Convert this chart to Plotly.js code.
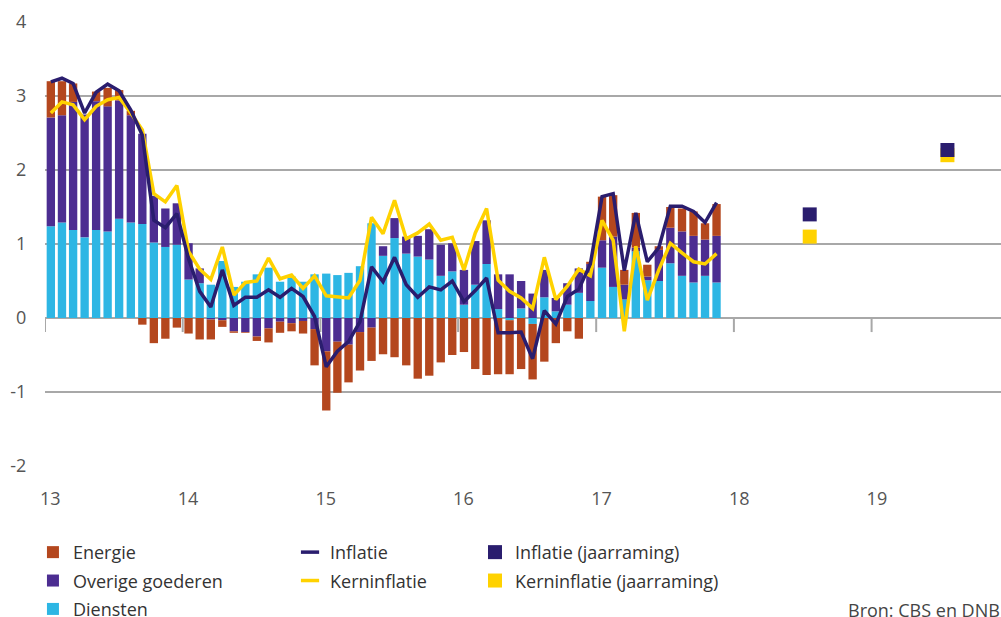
<!DOCTYPE html>
<html><head><meta charset="utf-8">
<script src="https://cdn.plot.ly/plotly-3.0.1.min.js"></script>
<style>html,body{margin:0;padding:0;background:#fff}#chart{width:1001px;height:617px}</style>
</head><body><div id="chart"></div>
<script>
// monthly categories Jan 2013 .. Nov 2017
const months = [];
for (let y = 2013; y <= 2017; y++) for (let m = 1; m <= 12; m++) {
  if (y === 2017 && m > 11) break;
  months.push(y + '-' + String(m).padStart(2, '0'));
}

// contributions (percentage points)
const energie = [
  0.49, 0.46, 0.25, 0.00, 0.13, 0.25, 0.14, 0.06, -0.09, -0.34, -0.28, -0.13,
  -0.21, -0.29, -0.27, -0.09, -0.02, -0.01, -0.06, -0.19, -0.15, -0.11, -0.17, -0.49,
  -0.80, -0.69, -0.51, -0.52, -0.45, -0.49, -0.53, -0.64, -0.82, -0.78, -0.60, -0.50,
  -0.46, -0.69, -0.77, -0.76, -0.73, -0.69, -0.75, -0.59, -0.34, -0.18, -0.28, 0.03,
  0.59, 0.56, 0.20, 0.47, 0.16, 0.05, 0.28, 0.31, 0.33, 0.22, 0.43
];
const overige = [
  1.47, 1.45, 1.73, 1.66, 1.74, 1.69, 1.60, 1.45, 1.22, 0.63, 0.52, 0.56,
  0.49, 0.20, -0.02, -0.03, -0.18, -0.19, -0.25, -0.14, -0.05, -0.07, -0.04, -0.15,
  -0.45, -0.32, -0.36, -0.19, -0.13, 0.13, 0.27, 0.23, 0.28, 0.41, 0.42, 0.38,
  0.47, 0.59, 0.59, 0.47, 0.59, 0.37, 0.33, 0.37, 0.18, 0.29, 0.33, 0.50,
  0.37, 0.68, 0.20, 0.05, 0.05, 0.42, 0.48, 0.60, 0.63, 0.49, 0.63
];
const diensten = [
  1.24, 1.29, 1.19, 1.09, 1.19, 1.17, 1.34, 1.29, 1.27, 1.02, 0.96, 0.99,
  0.52, 0.47, 0.45, 0.77, 0.42, 0.49, 0.59, 0.68, 0.49, 0.56, 0.49, 0.59,
  0.60, 0.58, 0.61, 0.70, 1.28, 0.84, 1.08, 0.87, 0.83, 0.79, 0.57, 0.63,
  0.18, 0.45, 0.73, 0.12, -0.03, 0.13, -0.08, 0.28, 0.09, 0.18, 0.34, 0.23,
  0.68, 0.42, 0.25, 0.90, 0.51, 0.50, 0.74, 0.57, 0.48, 0.57, 0.48
];
const inflatie = [
  3.19, 3.24, 3.17, 2.77, 3.05, 3.16, 3.07, 2.81, 2.47, 1.32, 1.22, 1.41,
  0.80, 0.36, 0.15, 0.65, 0.17, 0.28, 0.28, 0.38, 0.28, 0.40, 0.29, 0.02,
  -0.66, -0.45, -0.32, -0.05, 0.69, 0.49, 0.82, 0.45, 0.28, 0.42, 0.38, 0.50,
  0.22, 0.37, 0.54, -0.20, -0.20, -0.19, -0.55, 0.10, -0.08, 0.29, 0.39, 0.73,
  1.64, 1.68, 0.64, 1.42, 0.76, 0.95, 1.51, 1.51, 1.44, 1.29, 1.56
];
const kerninflatie = [
  2.77, 2.92, 2.88, 2.68, 2.86, 2.95, 2.98, 2.77, 2.54, 1.68, 1.57, 1.79,
  0.90, 0.66, 0.52, 0.96, 0.31, 0.48, 0.50, 0.81, 0.53, 0.58, 0.40, 0.57,
  0.30, 0.28, 0.27, 0.51, 1.36, 1.14, 1.59, 1.07, 1.15, 1.27, 1.05, 1.09,
  0.65, 1.15, 1.48, 0.51, 0.36, 0.27, 0.13, 0.82, 0.25, 0.43, 0.66, 0.57,
  1.32, 1.05, -0.18, 0.97, 0.24, 0.65, 1.01, 0.88, 0.76, 0.73, 0.87
];

// annual forecasts
const ramingJaren = ['2018-07-21', '2019-07-21'];
const inflatieRaming = [1.4, 2.27];
const kernRaming = [1.1, 2.2];

// axis labels
const jaren = ['2013', '2014', '2015', '2016', '2017', '2018', '2019'];
const jaarLabels = ['13', '14', '15', '16', '17', '18', '19'];
const yWaarden = [-2, -1, 0, 1, 2, 3, 4];
const yLabels = ['-2', '-1', '0', '1', '2', '3', '4'];

const C = {
  energie: '#B4471E', overige: '#4C2D91', diensten: '#2DB6E4',
  inflatie: '#2A1D6E', kern: '#FFD200', grid: '#A8A8A8'
};
const FONT = 'Open Sans, sans-serif';

const barBase = { type: 'bar', x: months, xperiod: 'M1', xperiodalignment: 'middle',
  hoverinfo: 'skip', legend: 'legend' };

const traces = [
  Object.assign({}, barBase, { name: 'Diensten', y: diensten, marker: { color: C.diensten, line: { width: 0 } }, legendgroup: 'g3', legendrank: 3 }),
  Object.assign({}, barBase, { name: 'Overige goederen', y: overige, marker: { color: C.overige, line: { width: 0 } }, legendgroup: 'g2', legendrank: 2 }),
  Object.assign({}, barBase, { name: 'Energie', y: energie, marker: { color: C.energie, line: { width: 0 } }, legendgroup: 'g1', legendrank: 1 }),
  { type: 'scatter', mode: 'lines', x: months, y: kerninflatie, xperiod: 'M1', xperiodalignment: 'middle',
    line: { color: C.kern, width: 3.5 }, showlegend: false, name: 'Kerninflatie' },
  { type: 'scatter', mode: 'lines', x: months, y: inflatie, xperiod: 'M1', xperiodalignment: 'middle',
    line: { color: C.inflatie, width: 3.5 }, showlegend: false, name: 'Inflatie' },
  // legend entries for lines (short dash)
  { type: 'scatter', mode: 'markers', x: [null], y: [null], name: 'Inflatie', legend: 'legend2',
    legendgroup: 'h1', legendrank: 1,
    marker: { symbol: 'line-ew', size: 13, line: { color: C.inflatie, width: 3.5 } } },
  { type: 'scatter', mode: 'markers', x: [null], y: [null], name: 'Kerninflatie', legend: 'legend2',
    legendgroup: 'h2', legendrank: 2,
    marker: { symbol: 'line-ew', size: 13, line: { color: C.kern, width: 3.5 } } },
  // forecasts
  { type: 'scatter', mode: 'markers', x: ramingJaren, y: kernRaming, name: 'Kerninflatie (jaarraming)',
    legend: 'legend3', legendgroup: 'k2', legendrank: 2,
    marker: { symbol: 'square', size: 14, color: C.kern } },
  { type: 'scatter', mode: 'markers', x: ramingJaren, y: inflatieRaming, name: 'Inflatie (jaarraming)',
    legend: 'legend3', legendgroup: 'k1', legendrank: 1,
    marker: { symbol: 'square', size: 14, color: C.inflatie } }
];

// year-start tick marks on the zero line
const tickShapes = jaren.map(j => ({
  type: 'line', xref: 'x', yref: 'y', x0: j + '-01-01', x1: j + '-01-01', y0: 0, y1: -0.19,
  line: { color: C.grid, width: 2 }, layer: 'below'
}));

const legendCommon = { orientation: 'v', xanchor: 'left', yanchor: 'top', bgcolor: 'rgba(0,0,0,0)',
  font: { family: FONT, size: 18, color: '#333' }, traceorder: 'grouped', tracegroupgap: 2 };

const layout = {
  width: 1001, height: 617,
  margin: { l: 45, r: 0, t: 22, b: 151, autoexpand: false },
  paper_bgcolor: '#fff', plot_bgcolor: '#fff',
  font: { family: FONT, size: 18, color: '#555' },
  barmode: 'relative', bargap: 0.25,
  xaxis: {
    type: 'date', range: ['2013-01-01', '2019-12-10'],
    tickvals: jaren.map(j => j + '-01-15'), ticktext: jaarLabels,
    ticks: 'outside', ticklen: 16, tickcolor: 'rgba(0,0,0,0)',
    showgrid: false, zeroline: false, showline: false,
    tickfont: { family: FONT, size: 18, color: '#555' }
  },
  yaxis: {
    range: [-2, 4], tickvals: yWaarden, ticktext: yLabels,
    ticks: 'outside', ticklen: 14, tickcolor: 'rgba(0,0,0,0)',
    showgrid: true, gridcolor: C.grid, gridwidth: 2,
    zeroline: true, zerolinecolor: C.grid, zerolinewidth: 2, showline: false,
    tickfont: { family: FONT, size: 18, color: '#555' }
  },
  showlegend: true,
  legend: Object.assign({}, legendCommon, { x: -0.0126, y: -0.153 }),
  legend2: Object.assign({}, legendCommon, { x: 0.2563, y: -0.153 }),
  legend3: Object.assign({}, legendCommon, { x: 0.4498, y: -0.153 }),
  shapes: tickShapes,
  annotations: [{
    xref: 'paper', yref: 'paper', x: 0.838, y: -0.324, xanchor: 'left', yanchor: 'middle',
    text: 'Bron: CBS en DNB', showarrow: false, font: { family: FONT, size: 18, color: '#444' }
  }]
};

Plotly.newPlot('chart', traces, layout, { displayModeBar: false, staticPlot: true });
</script>
</body></html>
